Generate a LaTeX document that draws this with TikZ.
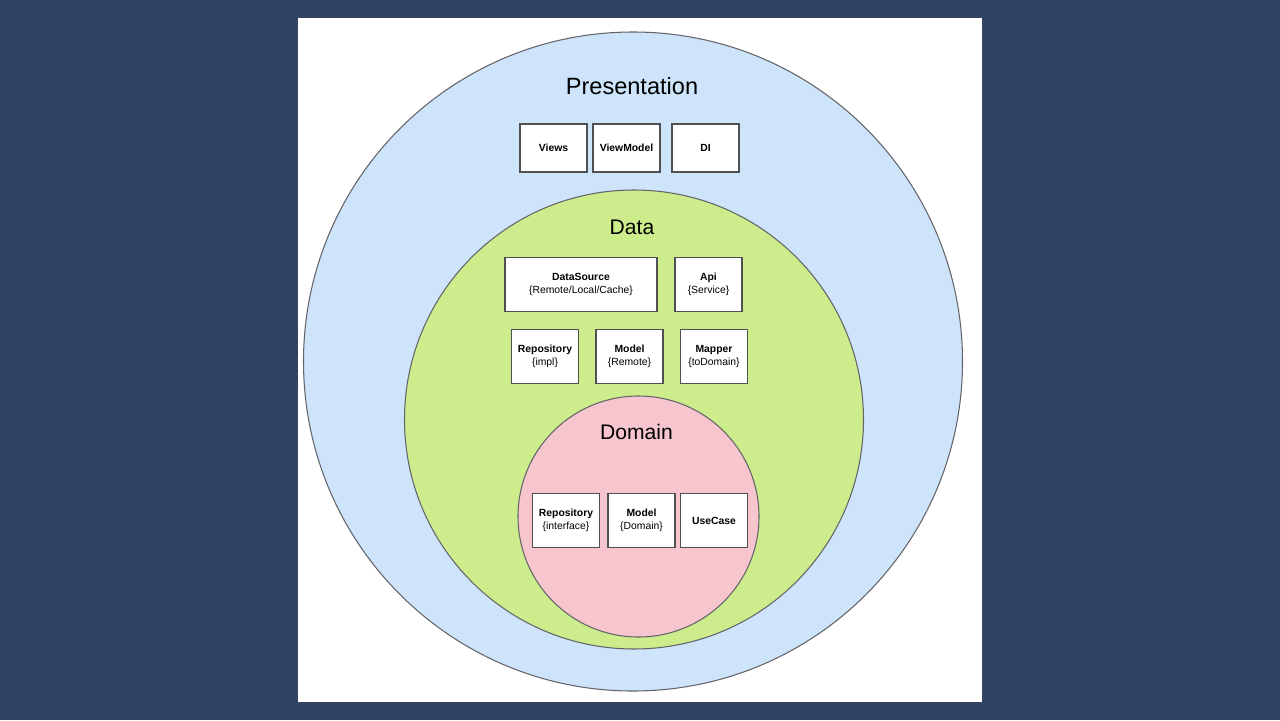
\documentclass[tikz,border=0pt]{standalone}
\usepackage{fontspec}
\setmainfont{Liberation Sans}
\usepackage{tikz}
\definecolor{slide}{RGB}{48,67,98}
\definecolor{presfill}{RGB}{205,228,251}
\definecolor{datafill}{RGB}{205,236,140}
\definecolor{domfill}{RGB}{246,197,205}
\definecolor{edge}{RGB}{100,100,105}

\begin{document}
\begin{tikzpicture}[
	layer/.style={circle, draw=edge, line width=0.6pt, inner sep=0pt},
	title/.style={font=\fontsize{12}{14}\selectfont},
	part/.style={rectangle, draw=edge!80!black, line width=0.6pt, fill=white,
		minimum width=1.34cm, minimum height=1.08cm, inner sep=1pt,
		align=center, font=\fontsize{5.9}{7.1}\selectfont},
	]
	\fill[slide] (0, 0) rectangle (25.6, -14.4);
	\fill[white] (5.96, -0.36) rectangle (19.64, -14.04);

	\node[layer, fill=presfill, minimum size=13.18cm] (Pres) at (12.66, -7.23) {};
	\node[layer, fill=datafill, minimum size=9.18cm] (Data) at (12.68, -8.39) {};
	\node[layer, fill=domfill, minimum size=4.82cm] (Dom) at (12.77, -10.33) {};

	\node[title, font=\fontsize{13.4}{15}\selectfont] (PresT) at (12.64, -1.72) {Presentation};
	\node[title] (DataT) at (12.64, -4.54) {Data};
	\node[title] (DomT) at (12.73, -8.64) {Domain};

	\node[part, minimum height=0.96cm] (Views) at (11.07, -2.96) {\textbf{Views}};
	\node[part, minimum height=0.96cm] (VM) at (12.53, -2.96) {\textbf{ViewModel}};
	\node[part, minimum height=0.96cm] (DI) at (14.11, -2.96) {\textbf{DI}};

	\node[part, minimum width=3.04cm] (DS) at (11.62, -5.69) {\textbf{DataSource}\\\{Remote/Local/Cache\}};
	\node[part] (Api) at (14.17, -5.69) {\textbf{Api}\\\{Service\}};
	\node[part] (RepoI) at (10.90, -7.13) {\textbf{Repository}\\\{impl\}};
	\node[part] (ModR) at (12.59, -7.13) {\textbf{Model}\\\{Remote\}};
	\node[part] (Map) at (14.28, -7.13) {\textbf{Mapper}\\\{toDomain\}};

	\node[part] (RepoD) at (11.32, -10.41) {\textbf{Repository}\\\{interface\}};
	\node[part] (ModD) at (12.83, -10.41) {\textbf{Model}\\\{Domain\}};
	\node[part] (UC) at (14.28, -10.41) {\textbf{UseCase}};
\end{tikzpicture}
\end{document}
